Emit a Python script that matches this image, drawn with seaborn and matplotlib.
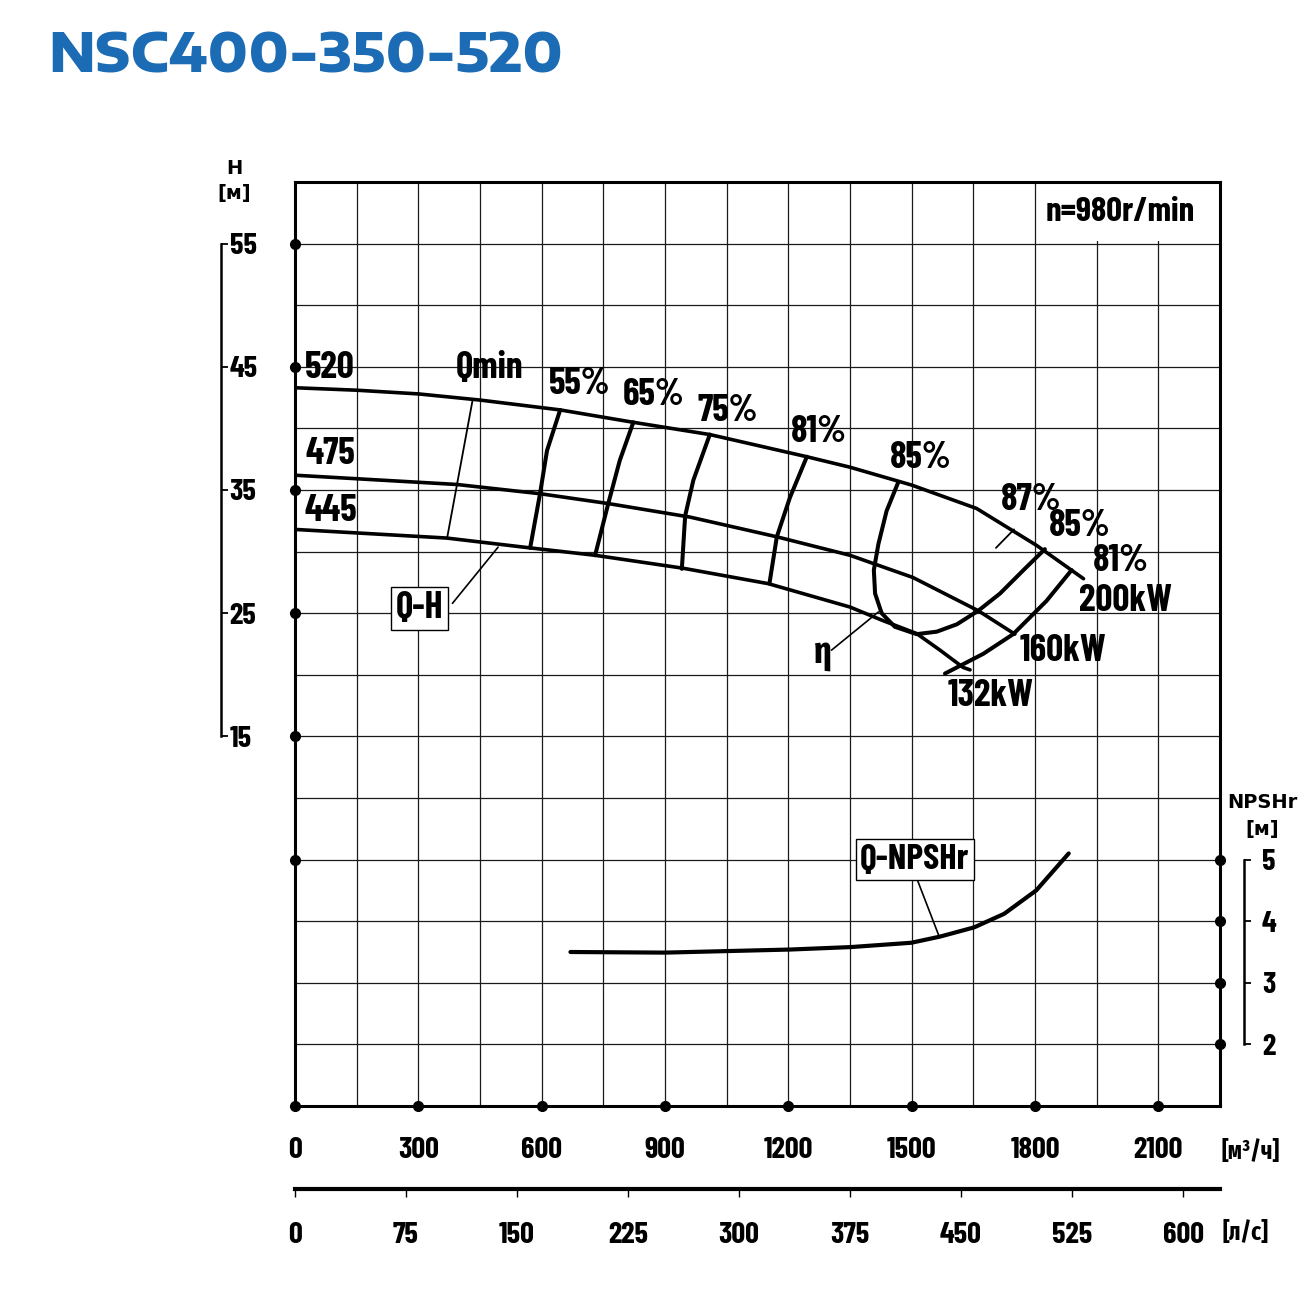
import matplotlib.pyplot as plt
from matplotlib.patches import Rectangle
import numpy as np
import seaborn as sns

# 1. Theme and fonts (font.family must be set after set_theme)
sns.set_theme(style="white")
plt.rcParams.update({
    "font.family": ["Barlow Condensed", "Fira Sans Extra Condensed", "DejaVu Sans"],
    "font.weight": "bold",
    "text.color": "black",
    "axes.edgecolor": "black",
    "xtick.color": "black",
    "ytick.color": "black",
})
cyr = ["Fira Sans Extra Condensed", "DejaVu Sans"]

# 2. Data (Q in m3/h, H in m, NPSHr in m)
q_520 = [0, 150, 300, 450, 645, 822, 1009, 1245, 1350, 1500, 1658, 1804, 1918]
h_520 = [43.3, 43.1, 42.8, 42.3, 41.5, 40.5, 39.5, 37.7, 36.85, 35.4, 33.5, 30.5, 27.8]
q_475 = [0, 393, 596, 762, 961, 1172, 1350, 1503, 1662, 1751]
h_475 = [36.2, 35.45, 34.7, 33.9, 32.8, 31.2, 29.7, 27.9, 25.2, 23.3]
q_445 = [0, 369, 572, 730, 944, 1151, 1350, 1430, 1512, 1569, 1625, 1642]
h_445 = [31.8, 31.1, 30.3, 29.7, 28.65, 27.4, 25.5, 24.4, 23.35, 22.0, 20.6, 20.4]

eff_55_q = [645, 613, 596, 572]
eff_55_h = [41.5, 38.2, 34.7, 30.3]
eff_65_q = [823, 790, 762, 730]
eff_65_h = [40.5, 37.4, 33.9, 29.7]
eff_75_q = [1009, 969, 949, 941]
eff_75_h = [39.5, 35.8, 32.9, 28.6]
eff_81_q = [1245, 1204, 1172, 1154]
eff_81_h = [37.7, 34.4, 31.2, 27.4]
eff_85_q = [1467, 1439, 1419, 1408, 1411, 1427, 1459, 1512, 1561, 1610, 1662, 1715, 1772, 1824]
eff_85_h = [35.6, 33.3, 30.6, 28.5, 26.6, 25.0, 23.9, 23.3, 23.5, 24.1, 25.2, 26.6, 28.5, 30.2]
eff_81r_q = [1889, 1828, 1747, 1674, 1581]
eff_81r_h = [28.5, 26.0, 23.3, 21.7, 20.1]
eff_87_q = [1705, 1749]
eff_87_h = [30.3, 31.8]
qmin_q = [432, 370]
qmin_h = [42.3, 31.1]

npsh_q = [670, 900, 1204, 1352, 1499, 1569, 1652, 1725, 1803, 1882]
npsh_m = [3.50, 3.49, 3.54, 3.58, 3.65, 3.75, 3.90, 4.12, 4.50, 5.10]

# axis ticks
q_grid = np.arange(0, 2251, 150)
h_grid = np.arange(-15, 61, 5)
q_labels = [0, 300, 600, 900, 1200, 1500, 1800, 2100]
ls_labels = [0, 75, 150, 225, 300, 375, 450, 525, 600]
h_labels = [15, 25, 35, 45, 55]
h_dots = [55, 45, 35, 25, 15, 5]
npsh_labels = [2, 3, 4, 5]

# 3. Figure layout in pixels
W, HP = 1310, 1295


def rect(x0, y0, x1, y1):
    return [x0 / W, 1 - y1 / HP, (x1 - x0) / W, (y1 - y0) / HP]


fig = plt.figure(figsize=(13.1, 12.95), dpi=100)
fig.patch.set_facecolor("white")

ax = fig.add_axes(rect(295, 182, 1220, 1106))
ax.set_xlim(0, 2250)
ax.set_ylim(-15, 60)
ax.set_xticks(q_grid, minor=True)
ax.set_yticks(h_grid, minor=True)
ax.set_xticks(q_labels)
ax.set_xticklabels([str(v) for v in q_labels])
ax.set_yticks([])
ax.tick_params(which="both", length=0)
ax.tick_params(axis="x", pad=22, labelsize=22)
ax.grid(which="both", color="#1a1a1a", lw=0.9)
ax.set_axisbelow(True)
for s in ax.spines.values():
    s.set_linewidth(2.2)
    s.set_color("black")

# white cell behind the speed label
ax.add_patch(Rectangle((1806, 55.25), 444, 4.75, facecolor="white",
                       edgecolor="none", zorder=1))

# 4. Curves
line_kw = dict(ax=ax, color="black", sort=False, estimator=None, legend=False)
for q, h in [(q_520, h_520), (q_475, h_475), (q_445, h_445)]:
    sns.lineplot(x=q, y=h, lw=2.6, **line_kw)
for q, h in [(eff_55_q, eff_55_h), (eff_65_q, eff_65_h), (eff_75_q, eff_75_h),
             (eff_81_q, eff_81_h), (eff_85_q, eff_85_h), (eff_81r_q, eff_81r_h)]:
    sns.lineplot(x=q, y=h, lw=2.9, **line_kw)
sns.lineplot(x=eff_87_q, y=eff_87_h, lw=1.3, **line_kw)
sns.lineplot(x=qmin_q, y=qmin_h, lw=1.3, **line_kw)

# spine dots
ax.plot([0] * len(h_dots), h_dots, "o", color="black", ms=7, clip_on=False, zorder=6)
ax.plot(q_labels, [-15] * len(q_labels), "o", color="black", ms=7, clip_on=False, zorder=6)
ax.plot([2250] * len(npsh_labels), [5 * v - 20 for v in npsh_labels], "o",
        color="black", ms=7, clip_on=False, zorder=6)

# 5. Curve labels
fs = 27
labels = [
    ("520", 85, 44.9), ("475", 85, 37.9), ("445", 88, 33.3),
    ("Qmin", 474, 44.9), ("55%", 693, 43.6), ("65%", 871, 42.7),
    ("75%", 1053, 41.45), ("81%", 1275, 39.7), ("85%", 1523, 37.6),
    ("87%", 1790, 34.2), ("85%", 1909, 32.1), ("81%", 2009, 29.2),
    ("200kW", 2021, 26.0), ("160kW", 1868, 21.9), ("132kW", 1693, 18.25),
]
for txt, x, y in labels:
    ax.text(x, y, txt, fontsize=fs, ha="center", va="center", zorder=7)
ax.text(1284, 21.8, "η", fontsize=fs, family=cyr, ha="center", va="center", zorder=7)
ax.text(2007, 57.6, "n=980r/min", fontsize=25, ha="center", va="center", zorder=7)

box = dict(boxstyle="square,pad=0.12", facecolor="white", edgecolor="black", lw=1)
ax.text(303, 25.4, "Q-H", fontsize=fs, ha="center", va="center", bbox=box, zorder=7)
ax.annotate("", xy=(494, 30.36), xytext=(383, 25.8),
            arrowprops=dict(arrowstyle="-", lw=1.2, color="black", shrinkA=0, shrinkB=0))
ax.annotate("", xy=(1419, 25.1), xytext=(1305, 22.0),
            arrowprops=dict(arrowstyle="-", lw=1.2, color="black", shrinkA=0, shrinkB=0))

# 6. NPSHr on a twin axis
ax2 = ax.twinx()
ax2.set_ylim(1, 16)
sns.lineplot(x=npsh_q, y=npsh_m, ax=ax2, color="black", lw=3.0, sort=False,
             estimator=None, legend=False)
ax2.set_ylabel("")
for s in ["top", "left", "bottom"]:
    ax2.spines[s].set_visible(False)
ax2.spines["right"].set_position(("outward", 24 * 0.72))
ax2.spines["right"].set_bounds(2, 5)
ax2.spines["right"].set_linewidth(1.8)
ax2.spines["right"].set_color("black")
ax2.set_yticks(npsh_labels)
ax2.tick_params(axis="y", direction="out", length=5, width=1.3, pad=8, labelsize=22)
ax2.text(1507, 5.0, "Q-NPSHr", fontsize=26, ha="center", va="center", bbox=box, zorder=7)
ax2.annotate("", xy=(1567, 3.75), xytext=(1515, 4.65),
             arrowprops=dict(arrowstyle="-", lw=1.2, color="black", shrinkA=0, shrinkB=0))

# 7. H scale bracket on the left
axh = fig.add_axes(rect(221, 182, 229, 1106))
axh.set_ylim(-15, 60)
axh.set_xticks([])
axh.patch.set_visible(False)
for s in ["top", "right", "bottom"]:
    axh.spines[s].set_visible(False)
axh.spines["left"].set_bounds(15, 55)
axh.spines["left"].set_linewidth(1.8)
axh.spines["left"].set_color("black")
axh.set_yticks(h_labels)
axh.tick_params(axis="y", left=True, right=False, labelleft=False, labelright=True,
                direction="in", length=5, width=1.3, pad=0.5, labelsize=22)

# 8. l/s secondary scale under the chart
sec = ax.secondary_xaxis(-83 / 924, functions=(lambda q: q / 3.6, lambda l: l * 3.6))
sec.set_xticks(ls_labels)
sec.spines["bottom"].set_linewidth(3)
sec.spines["bottom"].set_color("black")
sec.tick_params(direction="out", length=6, width=1, pad=18, labelsize=22)

# 9. Titles and unit labels
hfont = dict(family="DejaVu Sans", fontsize=14, fontweight="bold",
             ha="center", va="center")
fig.text(234 / W, 1 - 168 / HP, "H", **hfont)
fig.text(234 / W, 1 - 194 / HP, "[м]", **hfont)
fig.text(1262 / W, 1 - 803 / HP, "NPSHr", **hfont)
fig.text(1262 / W, 1 - 830 / HP, "[м]", **hfont)
fig.text(1251 / W, 1 - 1152 / HP, "[м³/ч]", family=cyr, fontsize=18, ha="center", va="center")
fig.text(1245 / W, 1 - 1233 / HP, "[л/с]", family=cyr, fontsize=18, ha="center", va="center")
fig.text(48 / W, 1 - 57 / HP, "NSC400-350-520", family=["Encode Sans Expanded", "DejaVu Sans"],
         fontsize=38, fontweight=800, color="#1b6cb5", ha="left", va="center")

fig.savefig("out.png", dpi=100)
